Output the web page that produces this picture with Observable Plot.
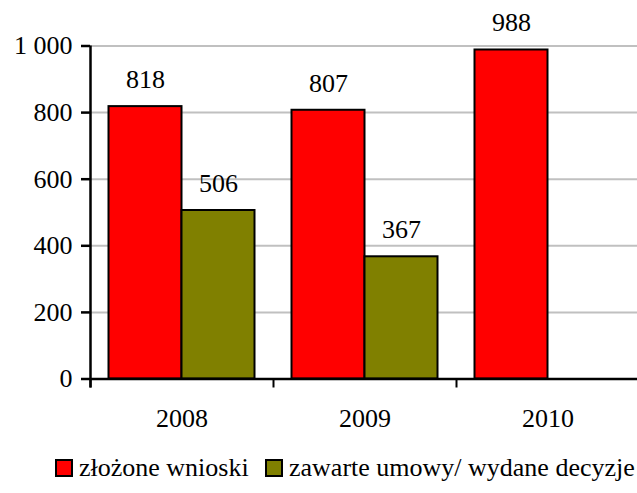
<!DOCTYPE html>
<html>
<head>
<meta charset="utf-8">
<script src="https://cdn.jsdelivr.net/npm/d3@7"></script>
<script src="https://cdn.jsdelivr.net/npm/@observablehq/plot@0.6"></script>
<style>
  html, body { margin: 0; padding: 0; background: #fff; }
  #wrap { width: 637px; height: 493px; overflow: hidden; font-family: 'Liberation Serif', serif; }
  #legend { position: relative; height: 53px; width: 637px; overflow: hidden; white-space: nowrap; font-size: 26px; color: #000; font-family: 'Liberation Serif', serif; }
  .item { position: absolute; top: 13px; display: flex; align-items: center; }
  .sw { width: 14px; height: 14px; border: 2px solid #000; margin-right: 6px; }
</style>
</head>
<body>
<div id="wrap">
  <div id="chart"></div>
  <div id="legend"></div>
</div>
<script>
const years = ["2008", "2009", "2010"];
const wnioski = [818, 807, 988];
const umowy = [506, 367, null];
const seriesNames = ["złożone wnioski", "zawarte umowy/ wydane decyzje"];
const seriesColors = ["#ff0000", "#808000"];
const yTicks = [0, 200, 400, 600, 800, 1000];

const fmt = d3.formatLocale({decimal: ",", thousands: "\u00a0", grouping: [3], currency: ["", ""]}).format(",");

const rowsA = years.map((y, i) => ({year: y, value: wnioski[i]}));
const rowsB = years.map((y, i) => ({year: y, value: umowy[i]})).filter(d => d.value != null);

const W = 637, H = 440;
const bandW = 183, pad = 18.5, barW = 73;
const FONT = "'Liberation Serif', serif";
const FS = 26;

const chart = Plot.plot({
  width: W,
  height: H,
  marginLeft: 90,
  marginRight: 0,
  marginTop: 45.5,
  marginBottom: H - 378.5,
  style: {fontFamily: FONT, fontSize: FS + "px", background: "#fff", color: "#000", overflow: "visible"},
  x: {type: "band", domain: years, range: [90, 90 + 3 * bandW], padding: 0, axis: null},
  y: {domain: [0, 1000], axis: null},
  marks: [
    Plot.ruleY(yTicks.filter(d => d > 0), {y: d => d, stroke: "#c0c0c0", strokeWidth: 2}),
    Plot.barY(rowsA, {x: "year", y: "value", fill: seriesColors[0], stroke: "#000", strokeWidth: 2,
      insetLeft: pad, insetRight: bandW - pad - barW}),
    Plot.barY(rowsB, {x: "year", y: "value", fill: seriesColors[1], stroke: "#000", strokeWidth: 2,
      insetLeft: pad + barW, insetRight: pad}),
    Plot.ruleY([0], {y: d => d, stroke: "#000", strokeWidth: 2.5}),
    Plot.ruleX([years[0]], {x: d => d, dx: -bandW / 2, y1: -27, y2: 1000, stroke: "#000", strokeWidth: 2.5}),
    Plot.ruleX(years, {x: d => d, dx: -bandW / 2, y1: 0, y2: -27, stroke: "#000", strokeWidth: 2}),
    Plot.ruleY(yTicks, {y: d => d, insetLeft: -9, insetRight: W - 90, stroke: "#000", strokeWidth: 2.5}),
    Plot.text(yTicks, {y: d => d, text: d => fmt(d), frameAnchor: "left", dx: -18, textAnchor: "end", fontSize: FS, fontFamily: FONT, fill: "#000"}),
    Plot.text(years, {x: d => d, y: 0, text: d => d, dy: 40, fontSize: FS, fontFamily: FONT, fill: "#000"}),
    Plot.text(rowsA, {x: "year", y: "value", text: d => String(d.value), dx: -(bandW / 2 - pad - barW / 2), dy: -27, fontSize: FS, fontFamily: FONT, fill: "#000"}),
    Plot.text(rowsB, {x: "year", y: "value", text: d => String(d.value), dx: (bandW / 2 - pad - barW / 2), dy: -27, fontSize: FS, fontFamily: FONT, fill: "#000"})
  ]
});
document.getElementById("chart").appendChild(chart);

const legend = document.getElementById("legend");
const lefts = [55, 265];
seriesNames.forEach((name, i) => {
  const item = document.createElement("div");
  item.className = "item";
  item.style.left = lefts[i] + "px";
  const sw = document.createElement("div");
  sw.className = "sw";
  sw.style.background = seriesColors[i];
  const t = document.createElement("span");
  t.textContent = name;
  item.appendChild(sw);
  item.appendChild(t);
  legend.appendChild(item);
});
</script>
</body>
</html>
